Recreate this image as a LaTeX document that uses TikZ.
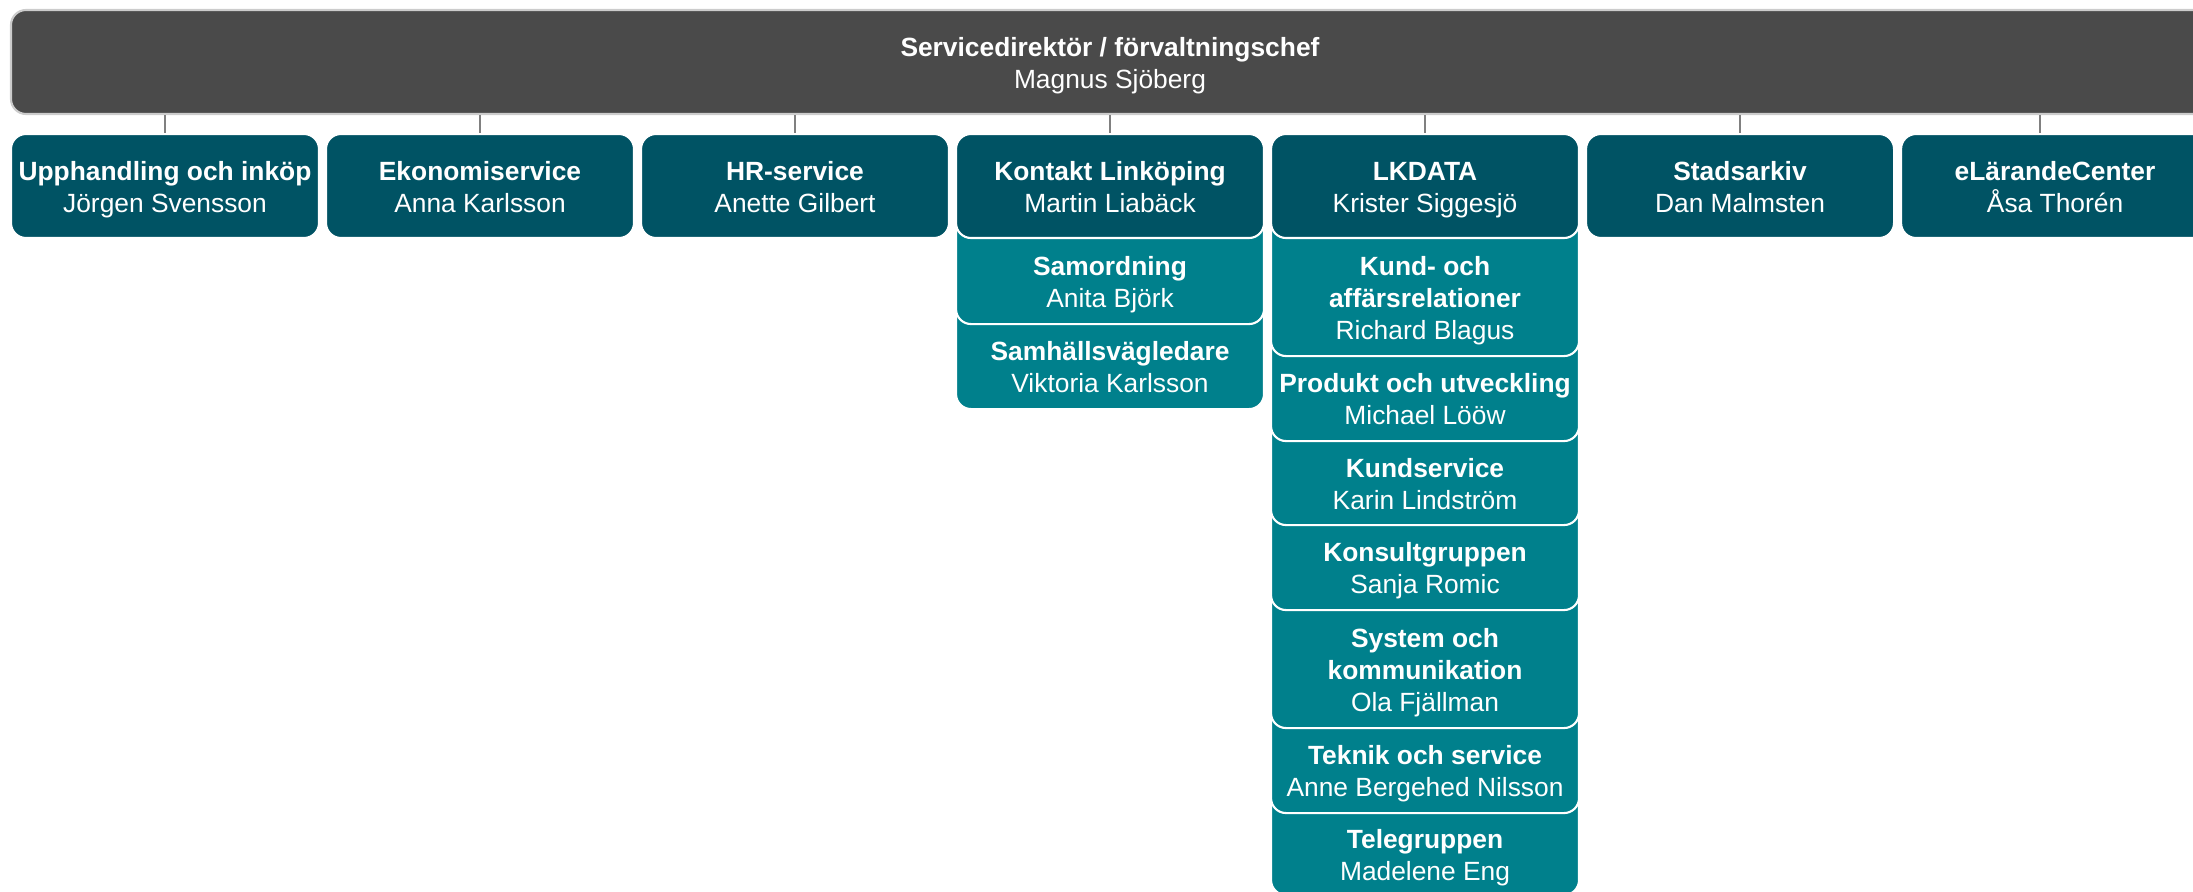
\documentclass[tikz,border=0pt]{standalone}
\usepackage{fontspec}
\setmainfont{Liberation Sans}
\usetikzlibrary{positioning,backgrounds,calc}
\definecolor{chiefgray}{HTML}{4A4A4A}
\definecolor{unitteal}{HTML}{005364}
\definecolor{subteal}{HTML}{00808C}
% title in bold, name below it
\newcommand{\topstrut}{\rule{0pt}{8.6pt}}
\newcommand{\orgentry}[2]{\topstrut\textbf{#1}\\#2\strut}
\begin{document}
\begin{tikzpicture}[
  font=\fontsize{7.5}{9.1}\selectfont,
  chief/.style={fill=chiefgray, draw=gray!40, line width=0.6pt, rounded corners=0.15cm,
    text=white, align=center, minimum width=21.98cm, minimum height=1.04cm, inner sep=0},
  unitbox/.style={fill=unitteal, draw=white, line width=0.6pt, rounded corners=0.15cm,
    text=white, align=center, minimum width=3.08cm, minimum height=1.04cm, inner sep=0},
  subunit/.style={text=white, align=center, minimum width=3.08cm, minimum height=0.85cm,
    inner sep=0, outer sep=0},
  subshape/.style={fill=subteal, draw=white, line width=0.6pt, rounded corners=0.15cm},
  link/.style={draw=gray, line width=0.5pt}
]
\useasboundingbox (0,0) rectangle (21.93,-8.92);
% Top level
\node[chief] (chief) at (11.10,-0.62) {\orgentry{Servicedirektör / förvaltningschef}{Magnus Sjöberg}};
% Units
\node[unitbox] (upph) at (1.65,-1.86) {\orgentry{Upphandling och inköp}{Jörgen Svensson}};
\node[unitbox, right=0.049cm of upph] (ekon) {\orgentry{Ekonomiservice}{Anna Karlsson}};
\node[unitbox, right=0.049cm of ekon] (hrse) {\orgentry{HR-service}{Anette Gilbert}};
\node[unitbox, right=0.049cm of hrse] (konk) {\orgentry{Kontakt Linköping}{Martin Liabäck}};
\node[unitbox, right=0.049cm of konk] (lkd) {\orgentry{LKDATA}{Krister Siggesjö}};
\node[unitbox, right=0.049cm of lkd] (arkiv) {\orgentry{Stadsarkiv}{Dan Malmsten}};
\node[unitbox, right=0.049cm of arkiv] (elc) {\orgentry{eLärandeCenter}{Åsa Thorén}};
% Groups under Kontakt Linköping
\node[subunit, below=0cm of konk] (samo) {\orgentry{Samordning}{Anita Björk}};
\node[subunit, below=0cm of samo] (samh) {\orgentry{Samhällsvägledare}{Viktoria Karlsson}};
% Groups under LKDATA
\node[subunit, minimum height=1.17cm, below=0cm of lkd] (kund)
  {\topstrut\textbf{Kund- och}\\\textbf{affärsrelationer}\\Richard Blagus\strut};
\node[subunit, below=0cm of kund] (prod) {\orgentry{Produkt och utveckling}{Michael Lööw}};
\node[subunit, minimum height=0.84cm, below=0cm of prod] (kser) {\orgentry{Kundservice}{Karin Lindström}};
\node[subunit, below=0cm of kser] (kons) {\orgentry{Konsultgruppen}{Sanja Romic}};
\node[subunit, minimum height=1.18cm, below=0cm of kons] (syst)
  {\topstrut\textbf{System och}\\\textbf{kommunikation}\\Ola Fjällman\strut};
\node[subunit, below=0cm of syst] (tekn) {\orgentry{Teknik och service}{Anne Bergehed Nilsson}};
\node[subunit, minimum height=0.82cm, below=0cm of tekn] (tele) {\orgentry{Telegruppen}{Madelene Eng}};
% Group boxes, lowest first so each one tucks under the box above
\begin{scope}[on background layer]
\foreach \n in {samh,samo,tele,tekn,syst,kons,kser,prod,kund}
  \draw[subshape] ($(\n.north west)+(0,0.3)$) rectangle (\n.south east);
\end{scope}
% Connectors
\foreach \n in {upph,ekon,hrse,konk,lkd,arkiv}
  \draw[link] (\n.north) -- (\n.north |- chief.south);
\coordinate (elcjoin) at ($(elc.north)+(-0.15,0)$);
\draw[link] (elcjoin) -- (elcjoin |- chief.south);
\end{tikzpicture}
\end{document}
